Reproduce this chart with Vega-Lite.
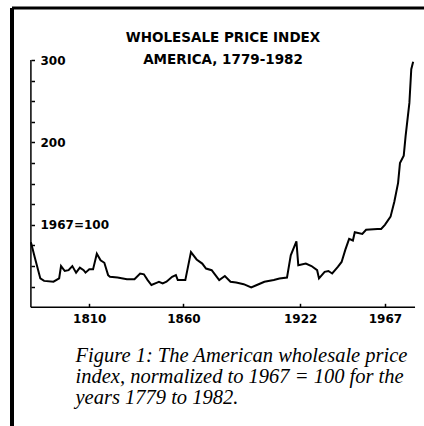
{
  "$schema": "https://vega.github.io/schema/vega-lite/v6.json",
  "width": 412,
  "height": 418,
  "autosize": {"type": "none"},
  "padding": {"left": 12, "top": 8, "right": 0, "bottom": 0},
  "background": "white",
  "config": {
    "view": {"stroke": null},
    "axis": {"grid": false, "labelFont": "DejaVu Sans", "labelFontWeight": "bold", "labelColor": "black", "tickColor": "black", "domainColor": "black"},
    "axisY": {
      "domain": false,
      "tickSize": -3.5, "tickWidth": 1.5, "labelPadding": -5.5,
      "labelAlign": "left", "labelBaseline": "middle", "labelFontSize": 12,
      "labelOverlap": false, "labelFlush": false
    }
  },
  "title": {
    "text": "WHOLESALE PRICE INDEX",
    "subtitle": "AMERICA, 1779-1982",
    "anchor": "middle",
    "offset": -60,
    "dx": 5,
    "font": "DejaVu Sans",
    "fontSize": 13.5,
    "fontWeight": "bold",
    "color": "black",
    "subtitleFont": "DejaVu Sans",
    "subtitleFontSize": 13.5,
    "subtitleFontWeight": "bold",
    "subtitleColor": "black",
    "subtitlePadding": 8
  },
  "data": {"values": [
    {"year": 1779, "index": 79}, {"year": 1781, "index": 61}, {"year": 1784, "index": 35}, {"year": 1786, "index": 32},
    {"year": 1791, "index": 31}, {"year": 1794, "index": 35}, {"year": 1795, "index": 50}, {"year": 1797, "index": 44},
    {"year": 1799, "index": 45}, {"year": 1801, "index": 50}, {"year": 1803, "index": 42}, {"year": 1805, "index": 48},
    {"year": 1807, "index": 45}, {"year": 1808, "index": 42}, {"year": 1810, "index": 46}, {"year": 1812, "index": 46},
    {"year": 1814, "index": 65}, {"year": 1816, "index": 57}, {"year": 1818, "index": 54}, {"year": 1820, "index": 39},
    {"year": 1821, "index": 37}, {"year": 1825, "index": 36}, {"year": 1830, "index": 34}, {"year": 1834, "index": 34},
    {"year": 1837, "index": 41}, {"year": 1839, "index": 40}, {"year": 1841, "index": 33}, {"year": 1843, "index": 27},
    {"year": 1846, "index": 30}, {"year": 1847, "index": 31}, {"year": 1849, "index": 29}, {"year": 1851, "index": 31},
    {"year": 1854, "index": 37}, {"year": 1856, "index": 39}, {"year": 1857, "index": 33}, {"year": 1861, "index": 33},
    {"year": 1864, "index": 67}, {"year": 1867, "index": 58}, {"year": 1870, "index": 53}, {"year": 1872, "index": 47},
    {"year": 1875, "index": 45}, {"year": 1877, "index": 39}, {"year": 1879, "index": 33}, {"year": 1882, "index": 38},
    {"year": 1885, "index": 31}, {"year": 1888, "index": 30}, {"year": 1892, "index": 28}, {"year": 1896, "index": 24},
    {"year": 1899, "index": 27}, {"year": 1903, "index": 31}, {"year": 1908, "index": 33}, {"year": 1911, "index": 35},
    {"year": 1915, "index": 36}, {"year": 1917, "index": 63}, {"year": 1920, "index": 80}, {"year": 1921, "index": 51},
    {"year": 1925, "index": 53}, {"year": 1928, "index": 50}, {"year": 1931, "index": 45}, {"year": 1932, "index": 35},
    {"year": 1935, "index": 43}, {"year": 1937, "index": 44}, {"year": 1939, "index": 41}, {"year": 1942, "index": 49},
    {"year": 1944, "index": 55}, {"year": 1946, "index": 70}, {"year": 1948, "index": 83}, {"year": 1950, "index": 81},
    {"year": 1951, "index": 91}, {"year": 1955, "index": 89}, {"year": 1957, "index": 94}, {"year": 1963, "index": 95},
    {"year": 1965, "index": 95}, {"year": 1967, "index": 100}, {"year": 1970, "index": 110}, {"year": 1972, "index": 128},
    {"year": 1974, "index": 151}, {"year": 1975, "index": 175}, {"year": 1977, "index": 184}, {"year": 1978, "index": 208},
    {"year": 1980, "index": 248}, {"year": 1981, "index": 289}, {"year": 1982, "index": 298}
  ]},
  "layer": [
    {
      "mark": {"type": "line", "color": "black", "strokeWidth": 2},
      "encoding": {
        "x": {
          "field": "year", "type": "quantitative",
          "scale": {"domain": [1768.96, 1987.76], "nice": false, "zero": false},
          "axis": {
            "orient": "bottom", "offset": -118.7, "domain": false,
            "values": [1810, 1860, 1922, 1967], "format": "d",
            "tickSize": -4, "tickWidth": 1.5, "labelPadding": 10,
            "labelFontSize": 12, "labelBaseline": "top", "labelFlush": false, "labelOverlap": false,
            "title": ["Figure 1: The American wholesale price", "index, normalized to 1967 = 100 for the", "years 1779 to 1982."],
            "titleFont": "Liberation Serif", "titleFontStyle": "italic", "titleFontWeight": "normal",
            "titleFontSize": 20.5, "titleAlign": "left", "titleAnchor": "start",
            "titleX": 63, "titleY": 38, "titleBaseline": "top", "titleLineHeight": 21, "titleColor": "black"
          }
        },
        "y": {
          "field": "index", "type": "quantitative",
          "scale": {"domain": [-144.1, 363.2], "nice": false, "zero": false},
          "axis": {
            "orient": "left", "offset": -19,
            "values": [25, 50, 75, 100, 125, 150, 175, 200, 225, 250, 275, 300],
            "labelExpr": "datum.value == 100 ? '1967=100' : (datum.value % 100 == 0 ? datum.label : '')",
            "title": null
          }
        }
      }
    },
    {
      "data": {"values": [{}]},
      "mark": {"type": "rule", "color": "black", "strokeWidth": 1.5},
      "encoding": {
        "x": {"datum": 1779, "type": "quantitative"},
        "y": {"datum": 0, "type": "quantitative", "axis": {"orient": "left", "offset": -19, "values": [25, 50, 75, 100, 125, 150, 175, 200, 225, 250, 275, 300], "labelExpr": "datum.value == 100 ? '1967=100' : (datum.value % 100 == 0 ? datum.label : '')", "title": null}},
        "y2": {"datum": 300}
      }
    },
    {
      "data": {"values": [{}]},
      "mark": {"type": "rule", "color": "black", "strokeWidth": 1.5},
      "encoding": {
        "x": {"datum": 1779, "type": "quantitative"},
        "x2": {"datum": 1983},
        "y": {"datum": 0, "type": "quantitative", "axis": {"orient": "left", "offset": -19, "values": [25, 50, 75, 100, 125, 150, 175, 200, 225, 250, 275, 300], "labelExpr": "datum.value == 100 ? '1967=100' : (datum.value % 100 == 0 ? datum.label : '')", "title": null}}
      }
    },
    {
      "data": {"values": [{}]},
      "mark": {"type": "rule", "color": "black", "strokeWidth": 4},
      "encoding": {
        "x": {"datum": 1768.96, "type": "quantitative"},
        "y": {"datum": -144.1, "type": "quantitative", "axis": {"orient": "left", "offset": -19, "values": [25, 50, 75, 100, 125, 150, 175, 200, 225, 250, 275, 300], "labelExpr": "datum.value == 100 ? '1967=100' : (datum.value % 100 == 0 ? datum.label : '')", "title": null}},
        "y2": {"datum": 363.2}
      }
    },
    {
      "data": {"values": [{}]},
      "mark": {"type": "rule", "color": "black", "strokeWidth": 3},
      "encoding": {
        "x": {"datum": 1768.96, "type": "quantitative"},
        "x2": {"datum": 1987.76},
        "y": {"datum": 363.2, "type": "quantitative", "axis": {"orient": "left", "offset": -19, "values": [25, 50, 75, 100, 125, 150, 175, 200, 225, 250, 275, 300], "labelExpr": "datum.value == 100 ? '1967=100' : (datum.value % 100 == 0 ? datum.label : '')", "title": null}}
      }
    }
  ]
}
